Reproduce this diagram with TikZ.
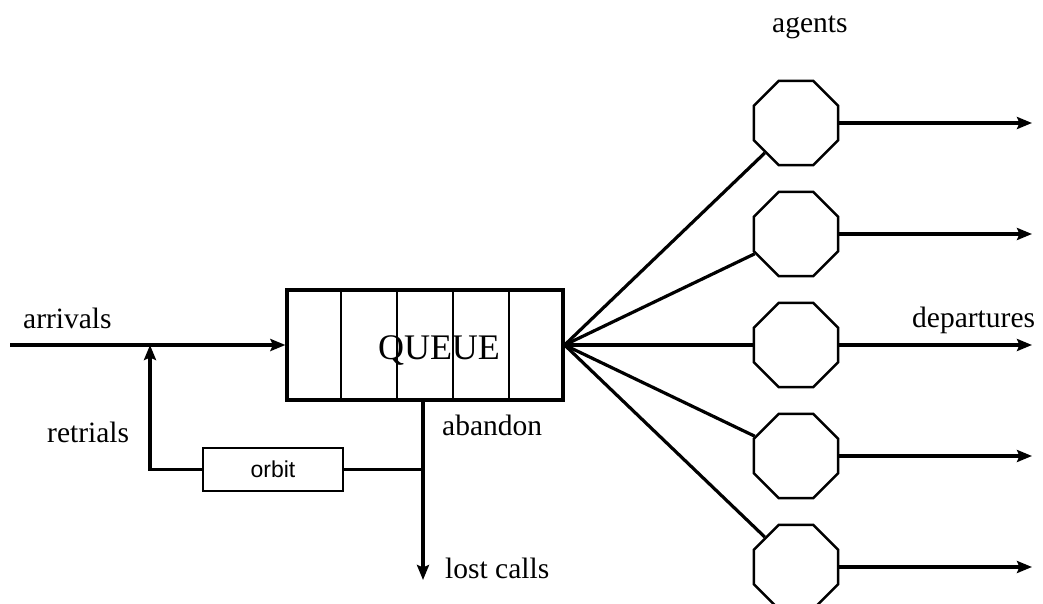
\documentclass[tikz,border=0pt]{standalone}
\usepackage{fontspec}
\setmainfont{Liberation Serif}
\newfontfamily\orbitfont{Liberation Sans}
\usetikzlibrary{shapes.geometric,arrows.meta,calc}
\begin{document}
\begin{tikzpicture}[x=1pt,y=-1pt,
  thick line/.style={line width=3.2pt},
  arr/.style={thick line,-{Stealth[length=15pt,width=12pt,inset=2.5pt]}},
  lbl/.style={anchor=base west,inner sep=0pt,font=\fontsize{29.5}{31}\selectfont},
  agent/.style={draw,line width=2.5pt,regular polygon,regular polygon sides=8,minimum size=91pt,inner sep=0pt},
  qbox/.style={draw,line width=3.2pt,minimum width=276pt,minimum height=110pt,inner sep=0pt},
  obox/.style={draw,line width=2.5pt,minimum width=140pt,minimum height=43pt,inner sep=0pt,font=\orbitfont\fontsize{23}{25}\selectfont}
]
\useasboundingbox (0,0) rectangle (1043,604);
\clip (0,0) rectangle (1043,604);
\fill[white] (0,0) rectangle (1043,604);

% queue
\node[qbox] (q) at (425,345) {};
\foreach \k in {1,2,3,4}{
  \draw[line width=1.5pt] ($(q.north west)!\k/5!(q.north east)$) -- ($(q.south west)!\k/5!(q.south east)$);
}
\node[inner sep=0pt,font=\fontsize{36}{38}\selectfont] (qt) at (439,350) {QUEUE};

% arrivals and retrials
\coordinate (start) at (10,345);
\coordinate (j1) at (150,345);
\draw[arr] (start) -- (q.west);
\node[obox] (orbit) at (273,469.5) {orbit};
\draw[arr] (orbit.west) -| (j1);

% abandon
\coordinate (ab) at (423,400);
\coordinate (lost) at (423,580);
\draw[arr] (ab) -- (lost);
\draw[thick line] (orbit.east) -- (orbit.east -| ab);

% agents
\foreach \i/\y in {1/123,2/234,3/345,4/456,5/567}{
  \node[agent] (o\i) at (796,\y) {};
  \coordinate (e\i) at (1032,\y);
  \draw[thick line] (q.east) -- (o\i);
  \draw[arr] (o\i.east) -- (e\i);
}

% labels
\node[lbl] (larr) at (23,328) {arrivals};
\node[lbl] (ldep) at (912,327) {departures};
\node[lbl] (lag) at (772,33) {agents};
\node[lbl] (lret) at (47,442) {retrials};
\node[lbl] (lab) at (442,435) {abandon};
\node[lbl] (llost) at (445,578) {lost calls};
\end{tikzpicture}
\end{document}
